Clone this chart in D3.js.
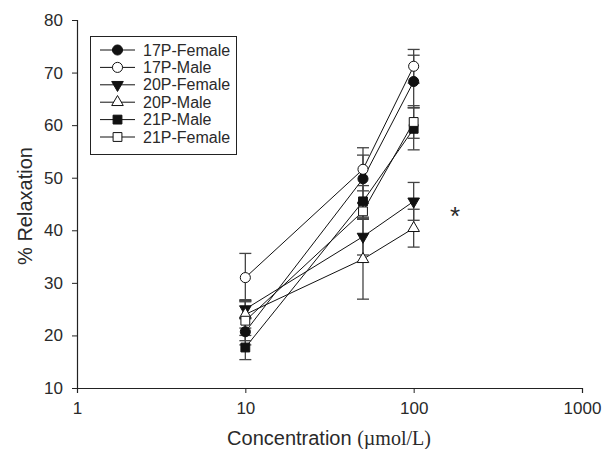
<!DOCTYPE html>
<html>
<head>
<meta charset="utf-8">
<script src="https://cdn.jsdelivr.net/npm/d3@7"></script>
<style>
  body { margin: 0; background: #fff; }
  text { font-family: "Liberation Sans", Arial, sans-serif; fill: #2a2a2a; }
</style>
</head>
<body>
<svg id="chart" width="608" height="449"></svg>
<script>
// concentrations (umol/L)
const conc = [10, 50, 100]
const seriesNames = ['17P-Female', '17P-Male', '20P-Female', '20P-Male', '21P-Male', '21P-Female']
// % relaxation per series
const f17 = [20.7, 49.8, 68.3]
const m17 = [31.0, 51.6, 71.2]
const f20 = [25.0, 38.8, 45.5]
const m20 = [24.0, 34.5, 40.4]
const m21 = [17.7, 45.5, 59.3]
const f21 = [22.8, 43.6, 60.6]
// error bar half-lengths
const f17Err = [2.5, 4.5, 5.0]
const m17Err = [4.6, 4.1, 3.2]
const f20Err = [1.8, 3.5, 3.6]
const m20Err = [2.6, 7.6, 3.6]
const m21Err = [2.3, 3.0, 4.0]
const f21Err = [3.8, 1.5, 3.1]
const xTicks = [1, 10, 100, 1000]
const yTicks = [10, 20, 30, 40, 50, 60, 70, 80]

const values = [f17, m17, f20, m20, m21, f21]
const errors = [f17Err, m17Err, f20Err, m20Err, m21Err, f21Err]
const shapes = ['circle', 'circle', 'down', 'up', 'square', 'square']
const filled = [true, false, true, false, true, false]

const series = seriesNames.map((name, i) => ({
  name: name, shape: shapes[i], filled: filled[i],
  points: conc.map((c, j) => ({x: c, y: values[i][j], e: errors[i][j]}))
}))

const svg = d3.select('#chart')
const x = d3.scaleLog().domain([1, 1000]).range([77, 582])
const y = d3.scaleLinear().domain([10, 80]).range([388, 20])

function symbolPath(shape) {
  if (shape === 'circle') return d3.symbol(d3.symbolCircle, 80)()
  if (shape === 'square') return d3.symbol(d3.symbolSquare, 78)()
  return d3.symbol(d3.symbolTriangle, 58)()
}
function symbolTransform(shape, px, py) {
  return shape === 'down' ? `translate(${px},${py}) rotate(180)` : `translate(${px},${py})`
}

// axes
const xAxis = svg.append('g')
    .attr('transform', `translate(0,${y(10)})`)
    .call(d3.axisBottom(x).tickValues(xTicks).tickFormat(d3.format('d')).tickSize(5).tickPadding(9))
const yAxis = svg.append('g')
    .attr('transform', `translate(${x(1)},0)`)
    .call(d3.axisLeft(y).tickValues(yTicks).tickSize(5).tickPadding(9))
;[xAxis, yAxis].forEach(a => {
  a.select('.domain').attr('stroke', '#222').attr('stroke-width', 1.2)
  a.selectAll('.tick line').attr('stroke', '#222')
  a.selectAll('.tick text').style('font-size', '17px').attr('fill', '#2a2a2a')
})

// axis titles
const xt = svg.append('text')
    .attr('x', 329).attr('y', 445)
    .attr('text-anchor', 'middle')
    .style('font-size', '20px')
xt.append('tspan').text('Concentration ')
xt.append('tspan').style('font-family', '"Liberation Serif", "Times New Roman", serif').text('(\u00b5mol/L)')

svg.append('text')
    .attr('transform', 'translate(32,206) rotate(-90)')
    .attr('text-anchor', 'middle')
    .style('font-size', '20px')
    .text('% Relaxation')

// lines
const line = d3.line().x(d => x(d.x)).y(d => y(d.y))
svg.append('g').selectAll('path')
    .data(series)
    .enter()
    .append('path')
    .attr('d', d => line(d.points))
    .attr('fill', 'none')
    .attr('stroke', '#111')
    .attr('stroke-width', 1)

// error bars
const eb = svg.append('g').selectAll('g')
    .data(series.flatMap(s => s.points))
    .enter()
    .append('g')
    .attr('stroke', '#444')
    .attr('stroke-width', 1.3)
eb.append('line')
    .attr('x1', d => x(d.x)).attr('x2', d => x(d.x))
    .attr('y1', d => y(d.y - d.e)).attr('y2', d => y(d.y + d.e))
eb.append('line')
    .attr('x1', d => x(d.x) - 6).attr('x2', d => x(d.x) + 6)
    .attr('y1', d => y(d.y + d.e)).attr('y2', d => y(d.y + d.e))
eb.append('line')
    .attr('x1', d => x(d.x) - 6).attr('x2', d => x(d.x) + 6)
    .attr('y1', d => y(d.y - d.e)).attr('y2', d => y(d.y - d.e))

// markers
series.forEach(s => {
  svg.append('g').selectAll('path')
    .data(s.points)
    .enter()
    .append('path')
    .attr('d', symbolPath(s.shape))
    .attr('transform', d => symbolTransform(s.shape, x(d.x), y(d.y)))
    .attr('fill', s.filled ? '#111' : '#fff')
    .attr('stroke', '#111')
    .attr('stroke-width', 1)
})

// significance mark
svg.append('text')
    .attr('x', 455).attr('y', 225)
    .attr('text-anchor', 'middle')
    .style('font-size', '26px')
    .text('*')

// legend
const legend = svg.append('g')
legend.append('rect')
    .attr('x', 90.5).attr('y', 36.5).attr('width', 146).attr('height', 118)
    .attr('fill', '#fff').attr('stroke', '#222').attr('stroke-width', 1)
const rows = legend.selectAll('.row')
    .data(series)
    .enter()
    .append('g')
    .attr('class', 'row')
    .attr('transform', (d, i) => `translate(0,${50 + i * 17.4})`)
rows.append('line')
    .attr('x1', 100).attr('x2', 135).attr('y1', 0).attr('y2', 0)
    .attr('stroke', '#111')
rows.append('path')
    .attr('d', d => symbolPath(d.shape))
    .attr('transform', d => symbolTransform(d.shape, 117.5, 0))
    .attr('fill', d => d.filled ? '#111' : '#fff')
    .attr('stroke', '#111')
rows.append('text')
    .attr('x', 143).attr('y', 5.5)
    .style('font-size', '16px')
    .text(d => d.name)
</script>
</body>
</html>
